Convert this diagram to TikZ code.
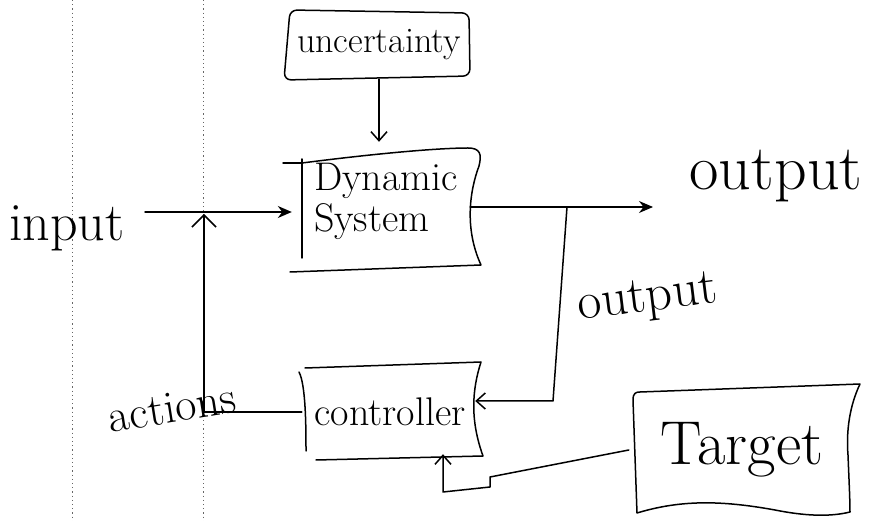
\documentclass[tikz,border=0pt]{standalone}
\usetikzlibrary{arrows.meta}
\begin{document}
\begin{tikzpicture}[x=1pt,y=-1pt,
  ink/.style={line width=1.5pt, line cap=round, line join=round},
  vtip/.style={-{Straight Barb[length=9pt,width=16pt,line width=1.5pt]}},
  wtip/.style={-{Straight Barb[length=12pt,width=24pt,line width=1.5pt]}},
  stip/.style={-{Stealth[length=14pt,width=12pt]}},
  ruling/.style={dash pattern=on 1.2pt off 3pt, line width=0.9pt, black!60},
  blk/.style={draw=none, inner sep=0pt},
  lbl/.style={inner sep=0pt}
]
\useasboundingbox (0,0) rectangle (871,521);
% notebook ruling
\draw[ruling] (72,0) -- (72,521);
\draw[ruling] (203,0) -- (203,521);

% nodes
\node[blk, minimum width=186pt, minimum height=68pt, font=\fontsize{36}{40}\selectfont] (unc) at (379,45) {uncertainty};
\node[blk, minimum width=168pt, minimum height=116pt, text width=144pt, align=left,
      font=\fontsize{40}{41}\selectfont] (dyn) at (386,201) {Dynamic\\System};
\node[blk, minimum width=176pt, minimum height=92pt, font=\fontsize{40}{44}\selectfont] (ctrl) at (390,412) {controller};
\node[blk, minimum width=226pt, minimum height=122pt, font=\fontsize{62}{66}\selectfont] (tgt) at (742,450) {Target};

\node[lbl, font=\fontsize{54}{58}\selectfont] (inp) at (67,228) {input};
\node[lbl, font=\fontsize{64}{68}\selectfont] (out1) at (776,176) {output};
\node[lbl, font=\fontsize{52}{56}\selectfont, rotate=7] (out2) at (648,300) {output};
\node[lbl, font=\fontsize{46}{50}\selectfont, rotate=9] (act) at (172,408) {actions};

% box outlines (hand-drawn look)
\draw[ink, rounded corners=7pt] (290,10) -- (469,13) -- (470,76) -- (284,80) -- cycle;
\draw[ink] (283,163) -- (302,163);
\draw[ink] (302,159) -- (302,258);
\draw[ink] (302,163) .. controls (380,153) and (440,148) .. (468,148)
  .. controls (480,148) and (482,154) .. (479,166)
  .. controls (470,190) and (464,228) .. (481,265) -- (290,272);
\draw[ink] (299,372) .. controls (306,385) and (306,430) .. (306,451);
\draw[ink] (305,368) -- (481,362)
  .. controls (472,390) and (470,420) .. (483,456) -- (316,460);
\draw[ink] (633,400) .. controls (633,393) and (636,392) .. (640,392) -- (860,384)
  .. controls (850,405) and (846,430) .. (848,455)
  .. controls (849,480) and (850,500) .. (850,512)
  .. controls (830,517) and (805,516) .. (775,510)
  .. controls (720,500) and (680,500) .. (637,513) -- cycle;

% coordinates for connector bends and free ends
\coordinate (ins) at (145,212);
\coordinate (j) at (204,212);
\coordinate (c1) at (567,207);
\coordinate (c2) at (553,401);
\coordinate (oend) at (653,207);
\coordinate (t1) at (490,477);
\coordinate (t2) at (490,487);
\coordinate (t3) at (443,492);

% connectors
\draw[ink, vtip, shorten >=1pt] (unc.south) -- (unc.south |- dyn.north);
\draw[ink, stip, shorten >=10pt] (ins) -- (ins -| dyn.west);
\draw[ink, wtip, shorten >=2pt] (ctrl.west) -| (j);
\draw[ink, stip] (dyn.east |- c1) -- (oend);
\draw[ink, vtip, shorten >=-3pt] (c1) -- (c2) -- (c2 -| ctrl.east);
\draw[ink, vtip, shorten >=-4pt] (tgt.west) -- (t1) -- (t2) -- (t3) -- (t3 |- ctrl.south);
\end{tikzpicture}
\end{document}
